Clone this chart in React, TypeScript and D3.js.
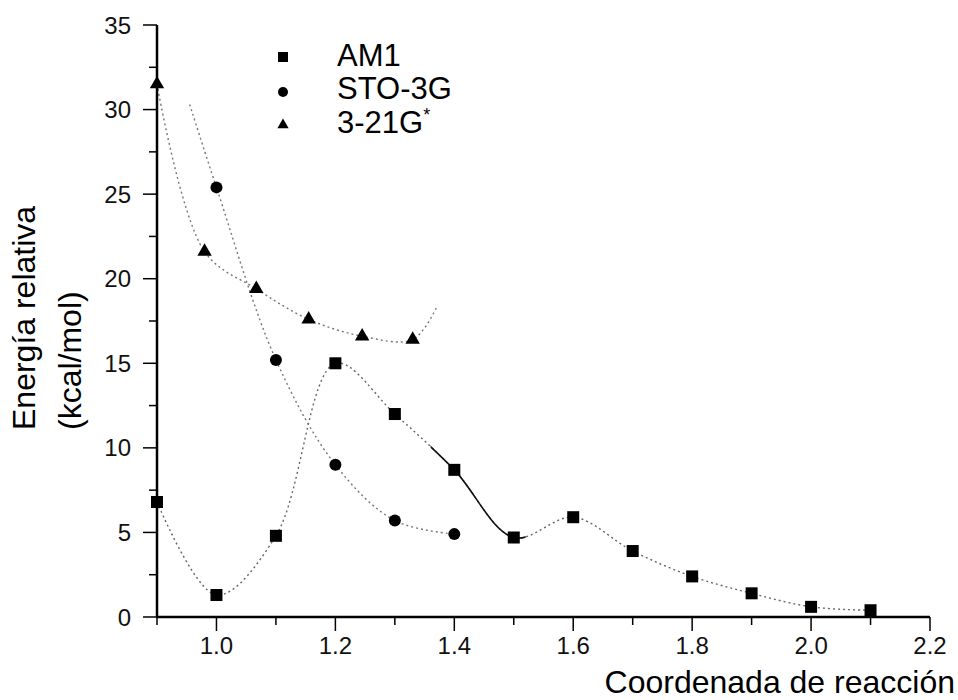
import React from "react";
import * as d3 from "d3";

const am1X = [0.9, 1.0, 1.1, 1.2, 1.3, 1.4, 1.5, 1.6, 1.7, 1.8, 1.9, 2.0, 2.1];
const am1Y = [6.8, 1.3, 4.8, 15.0, 12.0, 8.7, 4.7, 5.9, 3.9, 2.4, 1.4, 0.6, 0.4];

const stoX = [1.0, 1.1, 1.2, 1.3, 1.4];
const stoY = [25.4, 15.2, 9.0, 5.7, 4.9];
// where the fitted curve starts above the first point
const stoFitStart = [0.955, 30.3];

const g321X = [0.9, 0.98, 1.067, 1.155, 1.245, 1.33];
const g321Y = [31.5, 21.6, 19.4, 17.6, 16.6, 16.4];
// where the fitted curve ends after the last point
const g321FitEnd = [1.37, 18.3];

const xMajor = [1.0, 1.2, 1.4, 1.6, 1.8, 2.0, 2.2];
const xMajorLabels = ["1.0", "1.2", "1.4", "1.6", "1.8", "2.0", "2.2"];
const xMinor = [0.9, 1.1, 1.3, 1.5, 1.7, 1.9, 2.1];
const yMajor = [0, 5, 10, 15, 20, 25, 30, 35];
const yMinor = [2.5, 7.5, 12.5, 17.5, 22.5, 27.5, 32.5];

const legendLabels = ["AM1", "STO-3G", "3-21G"];

export default function App() {
  const x = d3.scaleLinear().domain([0.9, 2.2]).range([157, 930]);
  const y = d3.scaleLinear().domain([0, 35]).range([617, 25]);

  const line = d3
    .line<[number, number]>()
    .x((d) => x(d[0]))
    .y((d) => y(d[1]))
    .curve(d3.curveCatmullRom.alpha(0.5));

  const am1Pts: [number, number][] = am1X.map((v, i) => [v, am1Y[i]]);
  const stoPts: [number, number][] = [
    [stoFitStart[0], stoFitStart[1]],
    ...stoX.map((v, i) => [v, stoY[i]] as [number, number]),
  ];
  const g321Pts: [number, number][] = [
    ...g321X.map((v, i) => [v, g321Y[i]] as [number, number]),
    [g321FitEnd[0], g321FitEnd[1]],
  ];

  const font = "'Liberation Sans', Arial, sans-serif";
  const tri = d3.symbol().type(d3.symbolTriangle).size(90)();

  return (
    <svg
      width={958}
      height={700}
      style={{ position: "absolute", left: 0, top: 0, background: "#fff" }}
      fontFamily={font}
    >
      <defs>
        <clipPath id="solidSeg">
          <rect x={x(1.36)} y={0} width={x(1.52) - x(1.36)} height={700} />
        </clipPath>
      </defs>

      {/* curves */}
      <path d={line(am1Pts) || ""} fill="none" stroke="#666" strokeWidth={1.4} strokeDasharray="2,3" />
      <path d={line(am1Pts) || ""} fill="none" stroke="#111" strokeWidth={1.6} clipPath="url(#solidSeg)" />
      <path d={line(stoPts) || ""} fill="none" stroke="#777" strokeWidth={1.4} strokeDasharray="2,3" />
      <path d={line(g321Pts) || ""} fill="none" stroke="#777" strokeWidth={1.4} strokeDasharray="2,3" />

      {/* axes */}
      <line x1={157} x2={157} y1={y(35)} y2={y(0)} stroke="#000" strokeWidth={2.5} />
      <line x1={157} x2={930} y1={y(0)} y2={y(0)} stroke="#000" strokeWidth={2.5} />
      {yMajor.map((v) => (
        <g key={"ym" + v}>
          <line x1={143} x2={157} y1={y(v)} y2={y(v)} stroke="#000" strokeWidth={1.5} />
          <text x={131} y={y(v)} textAnchor="end" dominantBaseline="central" fontSize={24} fill="#111">
            {v}
          </text>
        </g>
      ))}
      {yMinor.map((v) => (
        <line key={"yn" + v} x1={149} x2={157} y1={y(v)} y2={y(v)} stroke="#000" strokeWidth={1.5} />
      ))}
      {xMajor.map((v, i) => (
        <g key={"xm" + v}>
          <line x1={x(v)} x2={x(v)} y1={y(0)} y2={y(0) + 14} stroke="#000" strokeWidth={1.5} />
          <text x={x(v)} y={654} textAnchor="middle" fontSize={24} fill="#111">
            {xMajorLabels[i]}
          </text>
        </g>
      ))}
      {xMinor.map((v) => (
        <line key={"xn" + v} x1={x(v)} x2={x(v)} y1={y(0)} y2={y(0) + 8} stroke="#000" strokeWidth={1.5} />
      ))}

      {/* axis titles */}
      <text x={955} y={693} textAnchor="end" fontSize={32} fill="#000">
        Coordenada de reacción
      </text>
      <text transform="translate(35,430) rotate(-90)" textAnchor="start" fontSize={32} fill="#000">
        Energía relativa
      </text>
      <text transform="translate(81,430) rotate(-90)" textAnchor="start" fontSize={32} fill="#000">
        (kcal/mol)
      </text>

      {/* markers */}
      {am1Pts.map((d, i) => (
        <rect key={"a" + i} x={x(d[0]) - 6} y={y(d[1]) - 6} width={12} height={12} fill="#000" />
      ))}
      {stoX.map((v, i) => (
        <circle key={"s" + i} cx={x(v)} cy={y(stoY[i])} r={6} fill="#000" />
      ))}
      {g321X.map((v, i) => (
        <path key={"t" + i} d={tri || ""} transform={`translate(${x(v)},${y(g321Y[i])})`} fill="#000" />
      ))}

      {/* legend */}
      <rect x={278} y={52} width={10} height={10} fill="#000" />
      <circle cx={283} cy={92} r={5} fill="#000" />
      <path d={d3.symbol().type(d3.symbolTriangle).size(55)() || ""} transform="translate(283,125)" fill="#000" />
      <text x={337} y={66} fontSize={31} fill="#000">{legendLabels[0]}</text>
      <text x={337} y={99} fontSize={31} fill="#000">{legendLabels[1]}</text>
      <text x={337} y={133} fontSize={31} fill="#000">
        {legendLabels[2]}
        <tspan dy={-12} fontSize={18}>*</tspan>
      </text>
    </svg>
  );
}
